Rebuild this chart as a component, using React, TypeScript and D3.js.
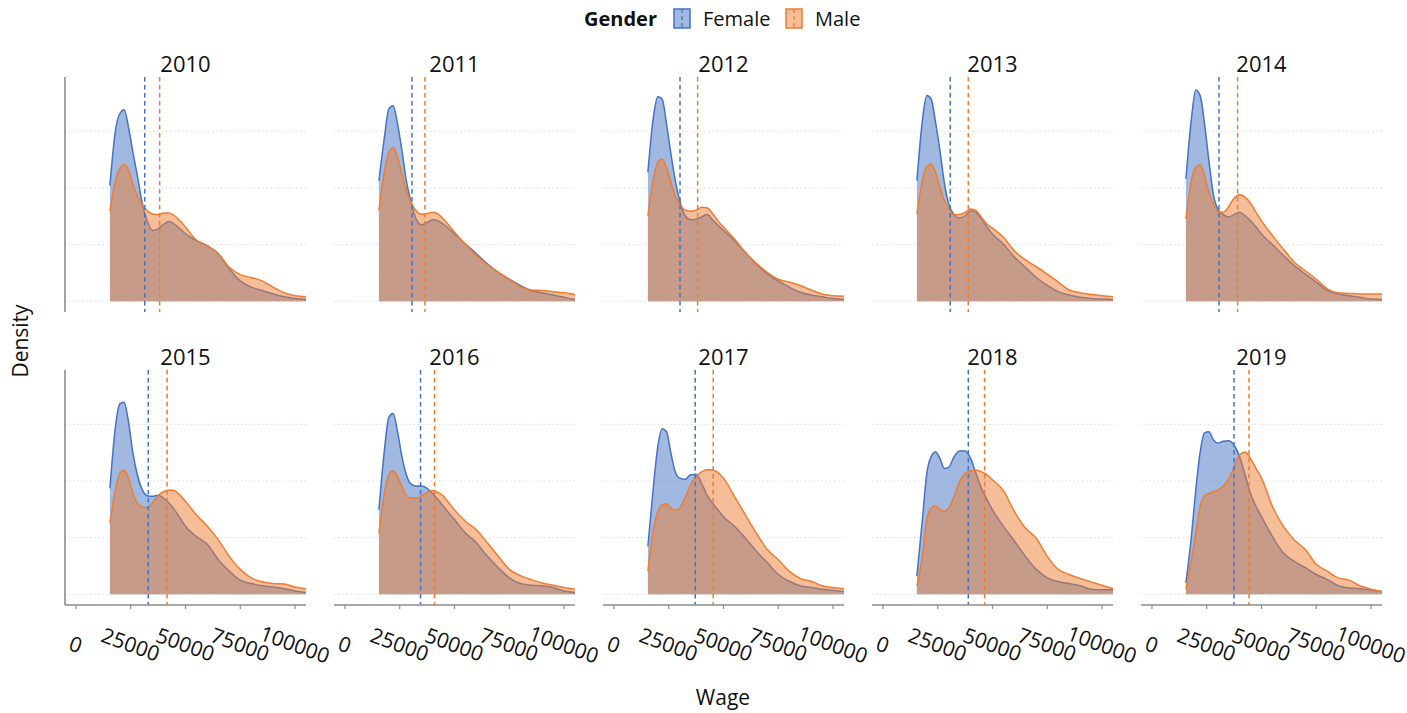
import React from "react";
import * as d3 from "d3";

// ---------- data ----------
const YEARS = [2010, 2011, 2012, 2013, 2014, 2015, 2016, 2017, 2018, 2019];
const GENDERS = ["Female", "Male"];
const X_TICKS = [0, 25000, 50000, 75000, 100000];
const Y_GRID = [0, 1, 2, 3]; // density ×1e-5

const WAGE_GRID = [15500, 18000, 20000, 22000, 24000, 26000, 28000, 30000, 32500, 35000, 37500, 40000, 42500, 45000, 47500, 50000, 55000, 60000, 65000, 70000, 75000, 80000, 85000, 90000, 95000, 100000, 105000];

// density (×1e-5) on WAGE_GRID
const F2010 = [2.04, 3.01, 3.31, 3.38, 3.07, 2.63, 2.22, 1.78, 1.42, 1.25, 1.28, 1.36, 1.41, 1.36, 1.28, 1.19, 1.07, 0.98, 0.84, 0.57, 0.36, 0.25, 0.19, 0.13, 0.08, 0.05, 0.03];
const M2010 = [1.59, 2.13, 2.34, 2.41, 2.31, 2.07, 1.86, 1.72, 1.6, 1.54, 1.53, 1.56, 1.56, 1.51, 1.42, 1.31, 1.08, 0.98, 0.84, 0.6, 0.47, 0.42, 0.36, 0.25, 0.15, 0.1, 0.08];
const F2011 = [2.13, 2.89, 3.39, 3.45, 3.13, 2.66, 2.13, 1.78, 1.45, 1.35, 1.39, 1.44, 1.42, 1.36, 1.28, 1.19, 1.01, 0.84, 0.66, 0.51, 0.39, 0.28, 0.19, 0.15, 0.11, 0.07, 0.03];
const M2011 = [1.6, 2.28, 2.63, 2.71, 2.54, 2.25, 1.95, 1.75, 1.6, 1.54, 1.55, 1.57, 1.54, 1.45, 1.34, 1.22, 1.01, 0.81, 0.65, 0.51, 0.39, 0.26, 0.2, 0.19, 0.17, 0.15, 0.12];
const F2012 = [2.28, 3.25, 3.61, 3.57, 3.13, 2.6, 2.13, 1.78, 1.51, 1.44, 1.45, 1.49, 1.53, 1.44, 1.34, 1.25, 1.07, 0.86, 0.66, 0.48, 0.36, 0.25, 0.16, 0.11, 0.08, 0.05, 0.03];
const M2012 = [1.51, 2.16, 2.45, 2.51, 2.36, 2.1, 1.86, 1.72, 1.61, 1.59, 1.61, 1.66, 1.65, 1.55, 1.42, 1.31, 1.1, 0.86, 0.67, 0.51, 0.39, 0.34, 0.28, 0.2, 0.13, 0.1, 0.09];
const F2013 = [2.13, 3.19, 3.63, 3.57, 3.16, 2.66, 2.1, 1.72, 1.53, 1.47, 1.51, 1.6, 1.57, 1.45, 1.31, 1.19, 1.01, 0.78, 0.6, 0.42, 0.28, 0.17, 0.11, 0.07, 0.05, 0.04, 0.03];
const M2013 = [1.54, 2.13, 2.38, 2.42, 2.28, 2.01, 1.78, 1.63, 1.53, 1.53, 1.57, 1.63, 1.6, 1.48, 1.36, 1.29, 1.13, 0.89, 0.73, 0.61, 0.48, 0.34, 0.2, 0.15, 0.12, 0.1, 0.08];
const F2014 = [2.16, 3.22, 3.73, 3.63, 3.13, 2.48, 1.89, 1.63, 1.53, 1.49, 1.53, 1.57, 1.51, 1.42, 1.31, 1.19, 1.0, 0.81, 0.63, 0.48, 0.34, 0.19, 0.13, 0.1, 0.07, 0.04, 0.03];
const M2014 = [1.45, 2.13, 2.36, 2.41, 2.22, 1.92, 1.72, 1.59, 1.57, 1.67, 1.82, 1.88, 1.84, 1.73, 1.57, 1.42, 1.16, 0.92, 0.69, 0.54, 0.39, 0.22, 0.15, 0.14, 0.13, 0.13, 0.13];
const F2015 = [1.87, 2.95, 3.36, 3.39, 3.04, 2.49, 2.11, 1.87, 1.74, 1.73, 1.75, 1.7, 1.61, 1.49, 1.35, 1.2, 1.02, 0.88, 0.61, 0.41, 0.25, 0.19, 0.15, 0.13, 0.1, 0.06, 0.03];
const M2015 = [1.26, 1.84, 2.13, 2.19, 2.05, 1.78, 1.61, 1.54, 1.53, 1.62, 1.74, 1.81, 1.84, 1.83, 1.75, 1.64, 1.4, 1.2, 0.96, 0.67, 0.44, 0.29, 0.22, 0.19, 0.18, 0.13, 0.1];
const F2016 = [1.49, 2.54, 3.12, 3.19, 2.87, 2.43, 2.11, 1.95, 1.91, 1.91, 1.87, 1.78, 1.67, 1.55, 1.43, 1.32, 1.08, 0.91, 0.67, 0.47, 0.29, 0.19, 0.16, 0.15, 0.12, 0.06, 0.03];
const M2016 = [1.07, 1.78, 2.11, 2.18, 2.08, 1.9, 1.75, 1.7, 1.7, 1.74, 1.8, 1.83, 1.8, 1.73, 1.61, 1.49, 1.29, 1.14, 0.91, 0.67, 0.44, 0.33, 0.26, 0.2, 0.16, 0.12, 0.09];
const F2017 = [0.85, 1.9, 2.6, 2.92, 2.87, 2.49, 2.16, 2.05, 2.03, 2.11, 2.12, 1.96, 1.75, 1.61, 1.49, 1.37, 1.2, 0.99, 0.76, 0.56, 0.35, 0.23, 0.15, 0.12, 0.09, 0.07, 0.05];
const M2017 = [0.41, 1.14, 1.46, 1.58, 1.6, 1.52, 1.48, 1.52, 1.7, 1.93, 2.08, 2.16, 2.2, 2.2, 2.15, 2.05, 1.73, 1.4, 1.08, 0.79, 0.61, 0.41, 0.28, 0.23, 0.15, 0.12, 0.1];
const F2018 = [0.32, 1.32, 2.13, 2.43, 2.51, 2.4, 2.22, 2.24, 2.43, 2.53, 2.53, 2.4, 2.13, 1.87, 1.67, 1.49, 1.2, 0.94, 0.67, 0.44, 0.29, 0.22, 0.19, 0.15, 0.09, 0.08, 0.08];
const M2018 = [0.15, 0.67, 1.32, 1.52, 1.56, 1.5, 1.46, 1.52, 1.73, 1.99, 2.13, 2.18, 2.19, 2.16, 2.11, 2.02, 1.83, 1.46, 1.17, 0.99, 0.67, 0.44, 0.35, 0.28, 0.22, 0.16, 0.1];
const F2019 = [0.2, 1.02, 1.84, 2.51, 2.85, 2.87, 2.73, 2.67, 2.7, 2.71, 2.63, 2.43, 2.11, 1.78, 1.55, 1.37, 1.02, 0.73, 0.58, 0.47, 0.35, 0.26, 0.15, 0.11, 0.1, 0.07, 0.05];
const M2019 = [0.09, 0.61, 1.08, 1.55, 1.74, 1.78, 1.81, 1.84, 1.91, 2.03, 2.25, 2.46, 2.51, 2.4, 2.22, 2.05, 1.55, 1.2, 0.96, 0.79, 0.53, 0.41, 0.29, 0.25, 0.15, 0.09, 0.05];

const FEMALE = [F2010, F2011, F2012, F2013, F2014, F2015, F2016, F2017, F2018, F2019];
const MALE = [M2010, M2011, M2012, M2013, M2014, M2015, M2016, M2017, M2018, M2019];

// mean wage per year
const MEAN_FEMALE = [31400, 30600, 30150, 30700, 30600, 33000, 34500, 37100, 38950, 37450];
const MEAN_MALE = [38200, 36500, 38200, 38950, 39100, 41600, 40900, 45300, 46400, 44300];

// ---------- styles ----------
const COLORS: Record<string, string> = { Female: "#4472C4", Male: "#ED7D31" };
const FONT = "'Open Sans', 'Noto Sans', sans-serif";

const PANEL_W = 241;
const PANEL_H = 235;
const COL_STEP = 269;
const ROW_STEP = 293;
const LEFT0 = 65;
const TOP0 = 77;

export default function App() {
  const x = d3.scaleLinear().domain([-5000, 105000]).range([0, PANEL_W]);
  const yMax = 3.77;
  const y = d3.scaleLinear().domain([-0.05 * yMax, 1.05 * yMax]).range([PANEL_H, 0]);

  const area = d3
    .area<number>()
    .x((_, i) => x(WAGE_GRID[i]))
    .y0(y(0))
    .y1((d) => y(d))
    .curve(d3.curveMonotoneX);
  const line = d3
    .line<number>()
    .x((_, i) => x(WAGE_GRID[i]))
    .y((d) => y(d))
    .curve(d3.curveMonotoneX);

  const panels = YEARS.map((year, idx) => {
    const col = idx % 5;
    const row = Math.floor(idx / 5);
    const left = LEFT0 + col * COL_STEP;
    const top = TOP0 + row * ROW_STEP;
    const series = [
      { g: "Female", vals: FEMALE[idx], mean: MEAN_FEMALE[idx] },
      { g: "Male", vals: MALE[idx], mean: MEAN_MALE[idx] },
    ];
    return (
      <g key={year} transform={`translate(${left},${top})`}>
        <defs>
          <clipPath id={`clip-${year}`}>
            <rect x={0} y={0} width={PANEL_W} height={PANEL_H} />
          </clipPath>
        </defs>
        {Y_GRID.map((v) => (
          <line
            key={v}
            x1={0}
            x2={PANEL_W}
            y1={y(v)}
            y2={y(v)}
            stroke="#d4d4d4"
            strokeWidth={1}
            strokeDasharray="1.2,3"
          />
        ))}
        <g clipPath={`url(#clip-${year})`}>
          {series.map((s) => (
            <g key={s.g}>
              <path d={area(s.vals) || ""} fill={COLORS[s.g]} fillOpacity={0.5} stroke="none" />
              <path d={line(s.vals) || ""} fill="none" stroke={COLORS[s.g]} strokeWidth={1.5} />
            </g>
          ))}
        </g>
        {series.map((s) => (
          <line
            key={s.g}
            x1={x(s.mean)}
            x2={x(s.mean)}
            y1={0}
            y2={PANEL_H}
            stroke={COLORS[s.g]}
            strokeWidth={1.5}
            strokeDasharray="4.5,3.5"
          />
        ))}
        {col === 0 && <line x1={0} x2={0} y1={0} y2={PANEL_H} stroke="#8c8c8c" strokeWidth={1.6} />}
        {row === 1 && (
          <g>
            <line x1={0} x2={PANEL_W} y1={PANEL_H} y2={PANEL_H} stroke="#8c8c8c" strokeWidth={1.6} />
            {X_TICKS.map((t) => (
              <g key={t}>
                <line x1={x(t)} x2={x(t)} y1={PANEL_H} y2={PANEL_H + 4} stroke="#8c8c8c" strokeWidth={1.2} />
                <text
                  transform={`translate(${x(t)},${PANEL_H + 39}) rotate(20)`}
                  textAnchor="middle"
                  dominantBaseline="central"
                  fontSize={21}
                  fontFamily={FONT}
                  fill="#111"
                >
                  {t}
                </text>
              </g>
            ))}
          </g>
        )}
        <text
          x={PANEL_W / 2}
          y={-14}
          textAnchor="middle"
          dominantBaseline="central"
          fontSize={22}
          fontFamily={FONT}
          fill="#111"
        >
          {year}
        </text>
      </g>
    );
  });

  // legend
  const legendItems = [
    { g: "Female", kx: 674, tx: 703 },
    { g: "Male", kx: 786, tx: 815 },
  ];

  return (
    <svg
      width={1407}
      height={713}
      style={{ position: "absolute", left: 0, top: 0, background: "#fff" }}
    >
      <rect x={0} y={0} width={1407} height={713} fill="#fff" />
      {panels}
      <text
        x={584}
        y={18}
        dominantBaseline="central"
        fontSize={20}
        fontWeight="bold"
        fontFamily={FONT}
        fill="#111"
      >
        Gender
      </text>
      {legendItems.map((it) => (
        <g key={it.g}>
          <rect x={it.kx} y={9} width={16} height={19} fill={COLORS[it.g]} fillOpacity={0.5} stroke={COLORS[it.g]} strokeWidth={1.5} />
          <line x1={it.kx + 8} x2={it.kx + 8} y1={9} y2={28} stroke={COLORS[it.g]} strokeWidth={1.3} strokeDasharray="4,3" />
          <text x={it.tx} y={18} dominantBaseline="central" fontSize={20} fontFamily={FONT} fill="#111">
            {it.g}
          </text>
        </g>
      ))}
      <text
        transform={`translate(20,341) rotate(-90)`}
        textAnchor="middle"
        dominantBaseline="central"
        fontSize={21}
        fontFamily={FONT}
        fill="#111"
      >
        Density
      </text>
      <text x={723} y={697} textAnchor="middle" dominantBaseline="central" fontSize={21} fontFamily={FONT} fill="#111">
        Wage
      </text>
    </svg>
  );
}
